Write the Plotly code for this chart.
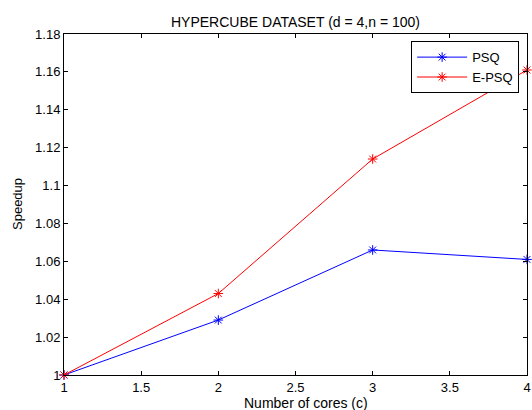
import plotly.graph_objects as go

cores = [1, 2, 3, 4]
psq = [1.0, 1.029, 1.066, 1.061]
epsq = [1.0, 1.043, 1.114, 1.161]
series_names = ["PSQ", "E-PSQ"]
title_text = "HYPERCUBE DATASET (d = 4,n = 100)"
x_title = "Number of cores (c)"
y_title = "Speedup"

FAM = "Liberation Sans, Arial, sans-serif"
font = dict(family=FAM, size=13, color="black")

fig = go.Figure()
for name, vals, col in [(series_names[0], psq, "#0000ff"), (series_names[1], epsq, "#ff0000")]:
    fig.add_trace(go.Scatter(
        x=cores, y=vals, name=name, mode="lines+markers", cliponaxis=False,
        line=dict(color=col, width=1),
        marker=dict(symbol="asterisk-open", size=8, color=col, line=dict(color=col, width=1)),
    ))

axis_common = dict(
    showline=True, linecolor="black", linewidth=1, mirror="allticks",
    ticks="inside", ticklen=4, tickcolor="black", showgrid=False, zeroline=False,
    tickfont=font, automargin=False,
)
fig.update_xaxes(range=[1, 4], dtick=0.5, tick0=1, **axis_common)
fig.update_yaxes(range=[1, 1.18], dtick=0.02, tick0=1, **axis_common)

fig.update_layout(
    width=532, height=410,
    margin=dict(l=64, r=5, t=34, b=35),
    paper_bgcolor="white", plot_bgcolor="white",
    font=font,
    title=dict(text=title_text, x=0.5, xref="paper", xanchor="center",
               y=1 - 22 / 410, yanchor="middle", font=dict(family=FAM, size=14, color="black")),
    legend=dict(x=0.983, xanchor="right", y=0.979, yanchor="top",
                bordercolor="black", borderwidth=1, bgcolor="white",
                font=dict(family=FAM, size=13, color="black"),
                tracegroupgap=0, itemwidth=50),
    showlegend=True,
    annotations=[
        dict(text=x_title, xref="paper", yref="paper", x=(306 - 64) / 463, y=-(403 - 375) / 341,
             xanchor="center", yanchor="middle", showarrow=False,
             font=dict(family=FAM, size=14, color="black")),
        dict(text=y_title, xref="paper", yref="paper", x=-(64 - 17.5) / 463, y=0.5,
             xanchor="center", yanchor="middle", showarrow=False, textangle=-90,
             font=dict(family=FAM, size=13, color="black")),
    ],
)

fig.write_html("out.html", config={"displayModeBar": False},
               post_script="document.body.style.margin='0';")
